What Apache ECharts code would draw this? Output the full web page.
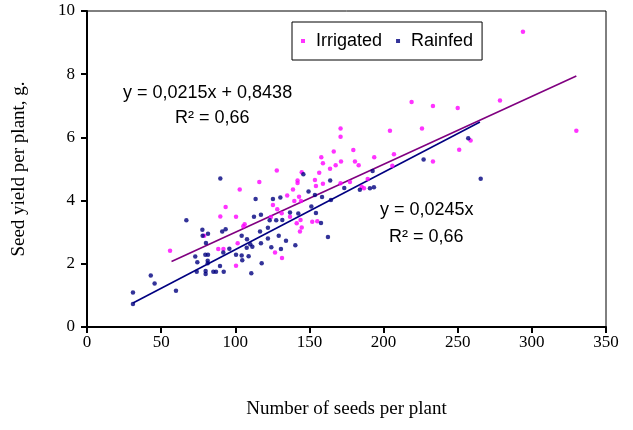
<!DOCTYPE html>
<html><head><meta charset="utf-8">
<script src="https://cdn.jsdelivr.net/npm/echarts@6/dist/echarts.min.js"></script>
<style>html,body{margin:0;padding:0;background:#fff}#c{width:633px;height:430px}</style>
</head><body><div id="c"></div>
<script>
const xTicks = [0, 50, 100, 150, 200, 250, 300, 350];
const yTicks = [0, 2, 4, 6, 8, 10];
const irrigated = [
 [56,2.41],[79,2.89],[88.5,2.47],[92,2.47],[89.9,3.5],[93.5,3.8],[100.5,3.49],[101.6,2.65],[100.5,1.94],
 [103,4.35],[105.4,3.19],[106.3,3.25],[116.2,4.59],[124,3.48],[125.4,3.86],[126.8,2.36],[128,4.95],[128.3,3.73],
 [131.5,2.18],[131.3,3.6],[135,4.16],[136.9,3.49],[138.9,4.35],[139.8,3.99],[141.4,3.28],[142,4.64],[142,4.56],
 [143,4.12],[143.6,3.02],[144,3.39],[144.3,3.99],[144.8,3.15],[144.8,4.9],[151.9,3.33],[153.7,4.65],[154.4,4.46],
 [155.3,3.35],[156.6,4.88],[158,5.37],[159.1,5.18],[159.1,4.53],[163.9,5.01],[166.4,5.55],[167.7,5.12],[171,6.28],
 [171,6.02],[171.3,5.24],[171,4.55],[177.3,4.59],[179.6,5.6],[180.7,5.24],[183.2,5.12],[185.2,4.44],[186.8,4.39],
 [189.3,4.68],[193.7,5.37],[204.3,6.21],[205.9,5.1],[207,5.47],[218.9,7.12],[225.9,6.28],[233.3,6.99],[233.3,5.24],
 [250,6.93],[251,5.61],[258.7,5.9],[278.5,7.17],[294,9.34],[330,6.21]
];
const rainfed = [
 [31,0.73],[31,1.09],[43,1.63],[45.6,1.38],[60,1.15],[67,3.38],[73,2.23],[74.4,2.05],[74,1.75],
 [77.8,3.08],[78,2.89],[81.6,2.95],[80.2,2.66],[79.8,2.29],[81.6,2.29],[81.4,2.1],[81.4,2.02],[80,1.77],[80,1.68],
 [85.2,1.75],[87,1.75],[89.7,1.93],[92.2,1.75],[89.9,4.7],[91.2,3.02],[93.5,3.09],[91.9,2.36],[96,2.48],
 [100.5,2.29],[104.3,2.89],[104.3,2.26],[104.7,2.11],[107.9,2.78],[107.7,2.51],[109,2.24],[110.1,2.62],[111.5,2.54],
 [110.8,1.7],[112.6,3.49],[113.7,4.05],[117.3,3.55],[116.7,3.02],[117.3,2.65],[117.8,2.02],[122,3.14],[122,2.8],
 [123.2,3.38],[124.3,2.52],[125.4,4.05],[127.6,3.38],[129.3,2.89],[130.4,4.1],[130.8,2.47],[131.7,3.39],[134.2,2.73],
 [136.9,3.62],[140.5,2.59],[142.5,3.59],[145.9,4.83],[149.4,4.29],[151.3,3.81],[153.7,4.18],[154.4,3.61],[157.8,3.29],
 [158.5,4.11],[162.5,2.85],[164,4.64],[164.5,4.02],[173.5,4.4],[184,4.34],[190.8,4.39],[193.5,4.42],[192.6,4.94],
 [227,5.3],[257.1,5.97],[265.5,4.69]
];
const irrigatedTrend = [[57,2.07],[330,7.94]];
const rainfedTrend = [[31,0.76],[265,6.49]];

const serif = "'Liberation Serif','Times New Roman',serif";
const sans = "'Liberation Sans',Arial,sans-serif";
const chart = echarts.init(document.getElementById('c'));
chart.setOption({
  animation: false,
  grid: {left: 87, right: 27, top: 11, bottom: 103, show: true, borderColor: '#000', borderWidth: 1},
  legend: {
    data: ['Irrigated', 'Rainfed'], left: 292, top: 22, orient: 'horizontal',
    borderColor: '#000', borderWidth: 1, padding: [10, 9, 10, 9], itemGap: 14,
    itemWidth: 4, itemHeight: 4, icon: 'rect',
    textStyle: {fontFamily: sans, fontSize: 18, color: '#000', padding: [0, 0, 0, 6]}
  },
  xAxis: {
    type: 'value', min: xTicks[0], max: xTicks[xTicks.length - 1], interval: 50,
    name: 'Number of seeds per plant', nameLocation: 'middle', nameGap: 73,
    nameTextStyle: {fontFamily: serif, fontSize: 19, color: '#000'},
    axisLine: {show: true, onZero: false, lineStyle: {color: '#000', width: 2}},
    axisTick: {show: true, length: 6, lineStyle: {color: '#000', width: 2}},
    axisLabel: {fontFamily: serif, fontSize: 17, color: '#000', margin: 7},
    splitLine: {show: false}
  },
  yAxis: {
    type: 'value', min: yTicks[0], max: yTicks[yTicks.length - 1], interval: 2,
    name: 'Seed yield per plant, g.', nameLocation: 'middle', nameGap: 58,
    nameTextStyle: {fontFamily: serif, fontSize: 19, color: '#000'},
    axisLine: {show: true, onZero: false, lineStyle: {color: '#000', width: 2}},
    axisTick: {show: true, length: 6, lineStyle: {color: '#000', width: 2}},
    axisLabel: {fontFamily: serif, fontSize: 17, color: '#000', margin: 12},
    splitLine: {show: false}
  },
  series: [
    {name: 'Irrigated', type: 'scatter', data: irrigated, symbol: 'circle', symbolSize: 4.5,
     itemStyle: {color: '#FF00FF'}, z: 3},
    {name: 'Rainfed', type: 'scatter', data: rainfed, symbol: 'circle', symbolSize: 4.5,
     itemStyle: {color: '#000080'}, z: 4},
    {name: 'irrTrend', type: 'line', data: irrigatedTrend, symbol: 'none', lineStyle: {color: '#800080', width: 1.6}, z: 2},
    {name: 'rainTrend', type: 'line', data: rainfedTrend, symbol: 'none', lineStyle: {color: '#000080', width: 1.6}, z: 2}
  ],
  graphic: [
    {type: 'text', left: 123, top: 84, style: {text: 'y = 0,0215x + 0,8438', font: "18px 'Liberation Sans'", fill: '#000'}},
    {type: 'text', left: 175, top: 109, style: {text: 'R² = 0,66', font: "18px 'Liberation Sans'", fill: '#000'}},
    {type: 'text', left: 380, top: 201, style: {text: 'y = 0,0245x', font: "18px 'Liberation Sans'", fill: '#000'}},
    {type: 'text', left: 389, top: 228, style: {text: 'R² = 0,66', font: "18px 'Liberation Sans'", fill: '#000'}}
  ]
});
</script></body></html>
